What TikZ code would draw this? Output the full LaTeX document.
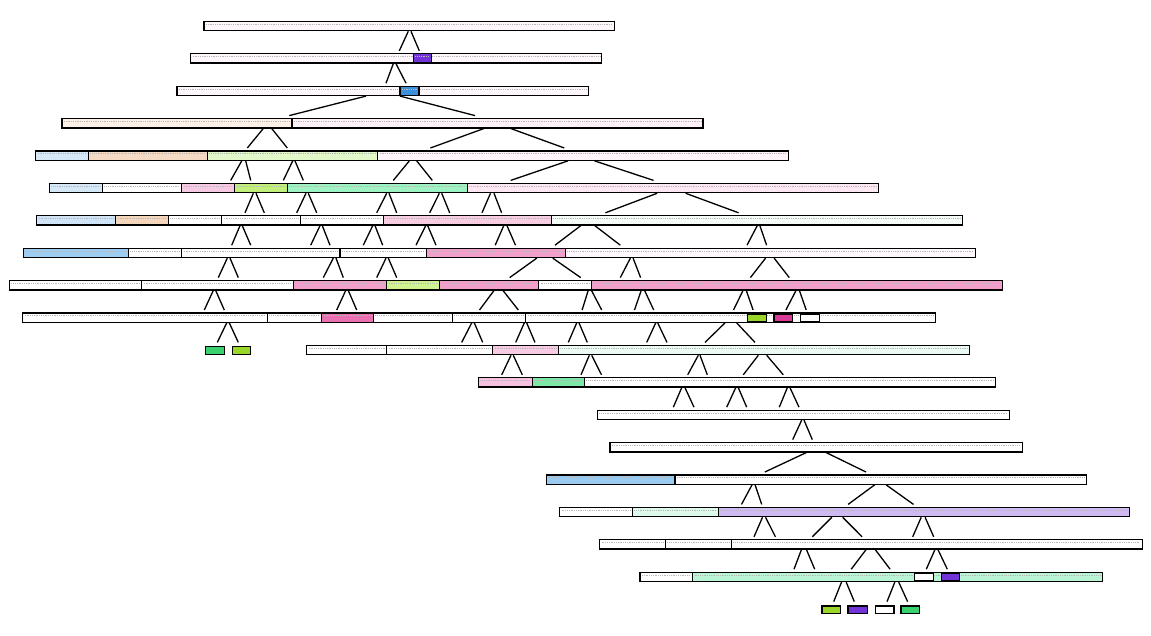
\documentclass[tikz,border=0pt]{standalone}
\definecolor{pkA}{HTML}{FDF6FA}
\definecolor{pkB}{HTML}{FDF1F7}
\definecolor{peA}{HTML}{FCF0E7}
\definecolor{blA}{HTML}{D5E8F8}
\definecolor{peB}{HTML}{F5DAC3}
\definecolor{liA}{HTML}{E2F7C9}
\definecolor{pkC}{HTML}{FDF3F8}
\definecolor{pkD}{HTML}{F7CAE3}
\definecolor{liB}{HTML}{C2EE7C}
\definecolor{mnA}{HTML}{9FF2C2}
\definecolor{pkE}{HTML}{FDE7F2}
\definecolor{blB}{HTML}{CFE4F7}
\definecolor{peC}{HTML}{F4D6BC}
\definecolor{pkF}{HTML}{F7CDE4}
\definecolor{mnB}{HTML}{F3FCF7}
\definecolor{blC}{HTML}{9DCDF0}
\definecolor{pkG}{HTML}{F19FCB}
\definecolor{pkH}{HTML}{FEF7FB}
\definecolor{liC}{HTML}{CFF291}
\definecolor{pkI}{HTML}{E970B1}
\definecolor{liD}{HTML}{9AD62A}
\definecolor{mgA}{HTML}{D93A96}
\definecolor{grA}{HTML}{3BD16F}
\definecolor{pkJ}{HTML}{F8CBE4}
\definecolor{mnC}{HTML}{EBFAF2}
\definecolor{pkK}{HTML}{F6C1DF}
\definecolor{grB}{HTML}{7EE6A6}
\definecolor{blD}{HTML}{99CAEF}
\definecolor{mnD}{HTML}{DDF9EB}
\definecolor{lvA}{HTML}{CFB9F3}
\definecolor{mnE}{HTML}{B9F4D4}
\definecolor{puA}{HTML}{7234D6}
\definecolor{blE}{HTML}{3C8FDB}
\tikzset{
  boxline/.style={draw=black, line width=1.35pt},
  txtline/.style={draw=black!28, line width=0.35pt, dash pattern=on 1pt off 0.8pt},
  edgeline/.style={draw=black, line width=1.3pt}
}
\newcommand\segrow[2]{%
  \pgfmathsetmacro\rt{21.4+(#1-1)*32.4}%
  \pgfmathsetmacro\rb{\rt+9.3}%
  \foreach \xa/\xb/\cc in {#2} {
    \filldraw[boxline, fill=\cc] (\xa,\rt) rectangle (\xb,\rb);
    \draw[txtline] ({\xa+2},{\rt+2.5}) -- ({\xb-2},{\rt+2.5});
  }}
\newcommand\leafrow[2]{%
  \pgfmathsetmacro\rt{21.4+(#1-1)*32.4+1.4}%
  \pgfmathsetmacro\rb{21.4+(#1-1)*32.4+8.8}%
  \foreach \xa/\xb/\cc in {#2} {
    \filldraw[boxline, fill=\cc] (\xa,\rt) rectangle (\xb,\rb);
  }}
\newcommand\edgerow[2]{%
  \pgfmathsetmacro\ea{21.4+(#1-1)*32.4+9.9}%
  \pgfmathsetmacro\eb{21.4+#1*32.4-3}%
  \foreach \xa/\xb in {#2} {
    \draw[edgeline] (\xa,\ea) -- (\xb,\eb);
  }}
\begin{document}
\begin{tikzpicture}[x=1pt,y=-1pt]
\useasboundingbox (0,0) rectangle (1151,636);
\fill[white] (0,0) rectangle (1151,636);
% row 1
\segrow{1}{204/614.3/pkA}
% row 2
\segrow{2}{190.7/601.7/pkA}
\segrow{2}{413.3/431.7/puA}
% row 3
\segrow{3}{177/588.3/pkA}
\segrow{3}{400/419/blE}
% row 4
\segrow{4}{62/292/peA, 292/703/pkB}
% row 5
\segrow{5}{35.7/88.3/blA, 88.3/207.3/peB, 207.3/377.7/liA, 377.7/788.3/pkC}
% row 6
\segrow{6}{49.3/102.3/blA, 102.3/181.7/white, 181.7/234.3/pkD, 234.3/287.3/liB, 287.3/467.3/mnA, 467.3/878.2/pkE}
% row 7
\segrow{7}{36.7/115.7/blB, 115.7/168.3/peC, 168.3/221.7/white, 221.7/300.7/white, 300.7/383.3/white, 383.3/551.3/pkF, 551.3/962.7/mnB}
% row 8
\segrow{8}{23.3/128.3/blC, 128.3/181.7/white, 181.7/340/white, 340/426.7/white, 426.7/565.2/pkG, 565.2/975.2/pkH}
% row 9
\segrow{9}{9.3/141.7/white, 141.7/293.3/white, 293.3/386.7/pkG, 386.7/439.3/liC, 439.3/538.5/pkG, 538.5/591.5/white, 591.5/1002.2/pkG}
% row 10
\segrow{10}{22.7/267.3/white, 267.3/321.7/white, 321.7/373.3/pkI, 373.3/452.3/white, 452.3/525.7/white, 525.7/935.3/white}
\leafrow{10}{747.3/766.7/liD, 774/792.7/mgA, 800.3/819.5/white}
% row 11
\leafrow{11}{205.7/224.3/grA, 232.3/250.7/liD}
\segrow{11}{306.7/386.7/white, 386.7/492.7/white, 492.7/558.3/pkJ, 558.3/969.3/mnC}
% row 12
\segrow{12}{478.3/532.3/pkK, 532.3/584.3/grB, 584.3/995.7/white}
% row 13
\segrow{13}{597.3/1009.3/white}
% row 14
\segrow{14}{610/1022.4/white}
% row 15
\segrow{15}{546.6/675/blD, 675/1086.6/white}
% row 16
\segrow{16}{559.5/632.2/white, 632.2/718.2/mnD, 718.2/1129.4/lvA}
% row 17
\segrow{17}{599.5/665.3/white, 665.3/731.4/white, 731.4/1142.2/white}
% row 18
\segrow{18}{640/692.5/white, 692.5/1102.2/mnE}
\leafrow{18}{914.6/933.7/white, 941.5/959.4/puA}
% row 19
\leafrow{19}{822/840.7/liD, 848.1/867.6/puA, 875.3/894/white, 901/919.7/grA}
% edges
\edgerow{1}{408.3/399.3, 411/419.3}
\edgerow{2}{393.3/386, 396/406}
\edgerow{3}{366/289.3, 400/475}
\edgerow{4}{263.3/247.3, 271.7/287.3, 484/430.4, 510.7/564.3}
\edgerow{5}{241.7/230.7, 245.7/250.7, 292.7/283.3, 295/303.3, 409.3/393.3, 416.7/432.3, 567.9/510.7, 594.6/653.6}
\edgerow{6}{253.3/245, 256/264.3, 306/296.7, 308.3/316.7, 386.7/376.7, 389/396.7, 439.3/429.7, 441.7/449.7, 490.5/482, 494/501.6, 657.1/605.4, 685.7/738.6}
\edgerow{7}{240/231.7, 242.3/250.7, 320/310.7, 322.3/330, 372.7/363.3, 375/382.7, 425.7/416, 427.7/436, 503.7/495.2, 507/515.5, 580.7/555, 594.9/620.3, 757.2/747, 759.9/766.6}
\edgerow{8}{227.3/218.3, 230/238.3, 333.3/323.3, 336/343.3, 386/376.7, 388.3/396.7, 536.8/509.7, 552.7/580.7, 630.4/620.3, 633.1/640.6, 765.6/750.4, 774.1/789.3}
\edgerow{9}{213.3/204.3, 215.7/224.3, 345.7/336.7, 348.3/356.7, 494/479.5, 503/518.3, 588.2/582.1, 591.5/601.7, 641.2/634.5, 644.6/653.7, 743/733.5, 746.3/753.1, 796/785.9, 799.4/806.2}
\edgerow{10}{226.7/217.3, 229.3/238.3, 471.7/461.7, 474.3/482.7, 524.3/515.7, 526.7/535, 576.7/568.3, 579/587.3, 655.7/646.7, 657.7/667, 725/705, 736.7/755}
\edgerow{11}{511/501.7, 513.3/522.3, 589.3/581, 591.7/601.5, 698.3/687.7, 700/707.3, 758.3/743.3, 766.7/783.3}
\edgerow{12}{681.7/673.3, 685/694, 735.7/726.7, 738.3/746.7, 787.3/779.3, 790/799}
\edgerow{13}{801.7/792.7, 804/812.3}
\edgerow{14}{806.5/764.9, 826/866}
\edgerow{15}{752/741.5, 755.1/761.7, 874.6/848.1, 886.2/913.5}
\edgerow{16}{762.5/754, 765.6/775.4, 831.8/812.3, 842.7/862.1, 921.2/912.7, 925.1/933.7}
\edgerow{17}{801.4/794, 806.5/814.7, 866/851.2, 875.3/890.1, 934.9/926.3, 938/947.3}
\edgerow{18}{841.5/833.7, 846.2/854.3, 894.8/887, 898.7/907.6}
\end{tikzpicture}
\end{document}
